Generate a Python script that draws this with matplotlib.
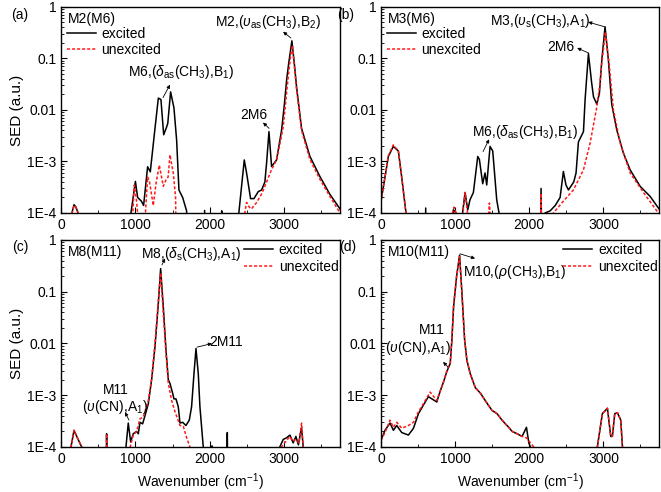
"""
SED curves for four modes, excited vs unexcited
"""

import numpy as np
import matplotlib
matplotlib.use('Agg')
from matplotlib import pyplot as plt
from matplotlib.ticker import FixedLocator, MultipleLocator, LogLocator, NullFormatter

plt.rcParams['font.family'] = ['Liberation Sans', 'DejaVu Sans']
plt.rcParams['mathtext.fontset'] = 'custom'
plt.rcParams['mathtext.rm'] = 'Liberation Sans'
plt.rcParams['mathtext.it'] = 'Liberation Sans:italic'
plt.rcParams['font.size'] = 10

LOW = 1e-6  # below the visible range

# (a) M2(M6)
a_x_exc = [0, 120, 150, 175, 200, 230, 250, 900, 940, 1000, 1030, 1080, 1110, 1164, 1200, 1260, 1308, 1343,
           1380, 1420, 1435, 1473, 1518, 1554, 1585, 1635, 1688, 1710, 1915, 1930, 1945, 2150, 2160, 2170,
           2360, 2390, 2463, 2494, 2548, 2593, 2651, 2696, 2740, 2763, 2795, 2830, 2897, 2965, 3000, 3032,
           3060, 3103, 3140, 3166, 3233, 3345, 3480, 3614, 3750]
a_y_exc = [LOW, LOW, 1.05e-4, 1.45e-4, 1.3e-4, 1.0e-4, LOW, LOW, 1e-4, 4.1e-4, 2.0e-4, 1.7e-4, 1.4e-4, 7.9e-4,
           6.3e-4, 4e-3, 0.017, 0.016, 3.3e-3, 4.7e-3, 5.5e-3, 0.0225, 0.011, 2.6e-3, 2.8e-4, 2.0e-4, 1.1e-4,
           LOW, LOW, 1.12e-4, LOW, LOW, 1.1e-4, LOW, LOW, 1e-4, 1.07e-3, 6e-4, 1.9e-4, 1.9e-4, 2.6e-4, 2.8e-4,
           4e-4, 9.3e-4, 3.8e-3, 8e-4, 1.07e-3, 4.1e-3, 0.012, 0.038, 0.08, 0.22, 0.07, 0.028, 4.4e-3, 1.26e-3,
           5.1e-4, 2.3e-4, 1.2e-4]
a_x_unx = [0, 120, 150, 175, 200, 230, 250, 950, 965, 985, 1010, 1030, 1040, 1120, 1135, 1164, 1190, 1240,
           1280, 1321, 1375, 1411, 1440, 1464, 1509, 1540, 1560, 2440, 2470, 2494, 2530, 2560, 2629, 2700,
           2763, 2830, 2897, 2950, 2987, 3030, 3054, 3085, 3112, 3140, 3166, 3233, 3345, 3480, 3614, 3750]
a_y_unx = [LOW, LOW, 1.0e-4, 1.4e-4, 1.3e-4, 1.0e-4, LOW, LOW, 1e-4, 3.5e-4, 2e-4, 1e-4, LOW, LOW, 1e-4,
           5e-4, 4e-4, 1.4e-4, 4e-4, 8.5e-4, 3.3e-4, 4.4e-4, 5e-4, 1.35e-3, 6e-4, 2e-4, LOW, LOW, 1e-4, 1.6e-4,
           1.3e-4, 1.2e-4, 1.6e-4, 2.4e-4, 4e-4, 7e-4, 1.07e-3, 2.5e-3, 4.7e-3, 0.02, 0.044, 0.11, 0.18, 0.06,
           0.025, 4e-3, 1.1e-3, 4.5e-4, 2.1e-4, 1.0e-4]

# (b) M3(M6)
b_x_exc = [0, 54, 99, 166, 234, 279, 337, 350, 590, 603, 615, 960, 976, 990, 1012, 1030, 1100, 1134, 1170,
           1200, 1246, 1305, 1327, 1372, 1403, 1426, 1471, 1507, 1561, 1592, 1600, 2140, 2159, 2180, 2200,
           2213, 2281, 2350, 2416, 2460, 2495, 2528, 2600, 2631, 2663, 2731, 2753, 2798, 2840, 2866, 2911,
           2946, 2978, 3022, 3067, 3112, 3180, 3270, 3360, 3495, 3630, 3750]
b_y_exc = [1.7e-4, 5e-4, 1.25e-3, 1.96e-3, 1.6e-3, 5e-4, 1e-4, LOW, LOW, 1.25e-4, LOW, LOW, 1.15e-4, 1.1e-4,
           1e-4, LOW, 1e-4, 2.5e-4, 1.15e-4, 1.8e-4, 2.5e-4, 1.25e-3, 1.1e-3, 3.7e-4, 6e-4, 3.5e-4, 1.96e-3,
           1.6e-3, 1.8e-4, 1e-4, LOW, LOW, 3e-4, LOW, LOW, 1e-4, 1.1e-4, 1.4e-4, 2e-4, 6.4e-4, 3.5e-4, 2.8e-4,
           4e-4, 6e-4, 2.4e-3, 3.8e-3, 0.016, 0.125, 0.035, 0.018, 0.013, 0.021, 0.093, 0.41, 0.093, 0.013,
           4.1e-3, 1.45e-3, 6.9e-4, 3.3e-4, 2.1e-4, 1.2e-4]
b_x_unx = [0, 54, 99, 166, 234, 279, 337, 350, 950, 965, 985, 1005, 1020, 1090, 1105, 1134, 1165, 1180,
           1440, 1452, 1462, 1472, 1484, 2145, 2159, 2175, 2310, 2325, 2460, 2595, 2731, 2821, 2911, 2950,
           2978, 3027, 3081, 3135, 3225, 3360, 3540, 3720, 3750]
b_y_unx = [1.7e-4, 5e-4, 1.3e-3, 2.1e-3, 1.6e-3, 5e-4, 1e-4, LOW, LOW, 1e-4, 1.3e-4, 1.1e-4, LOW, LOW,
           1e-4, 2.5e-4, 1.1e-4, LOW, LOW, 1e-4, 1.56e-4, 1e-4, LOW, LOW, 2.4e-4, LOW, LOW, 1e-4, 1.7e-4,
           2.8e-4, 6.9e-4, 2.3e-3, 0.0115, 0.03, 0.08, 0.33, 0.07, 0.01, 2.3e-3, 6e-4, 2.5e-4, 1.1e-4, 9.5e-5]

# (c) M8(M11)
c_x_exc = [100, 134, 175, 220, 278, 290, 600, 613, 625, 860, 873, 904, 936, 971, 1016, 1039, 1061, 1097,
           1128, 1173, 1218, 1263, 1308, 1339, 1375, 1411, 1442, 1464, 1500, 1518, 1545, 1576, 1599, 1635,
           1679, 1724, 1755, 1787, 1814, 1845, 1867, 1912, 1925, 2020, 2030, 2040, 2220, 2235, 2250, 2920,
           2940, 2987, 3030, 3077, 3120, 3157, 3190, 3233, 3255, 3265]
c_y_exc = [LOW, 1e-4, 2.1e-4, 1.5e-4, 1e-4, LOW, LOW, 1.8e-4, LOW, LOW, 1e-4, 2.9e-4, 1.25e-4, 1.8e-4, 2e-4,
           1.8e-4, 3e-4, 2.8e-4, 4e-4, 6.8e-4, 2e-3, 8.6e-3, 0.059, 0.28, 0.051, 7.5e-3, 2e-3, 1.7e-3, 1.1e-3,
           8.5e-4, 8.5e-4, 6e-4, 2.9e-4, 3e-4, 2.6e-4, 3.3e-4, 6e-4, 2.6e-3, 8e-3, 2.6e-3, 6e-4, 1e-4, LOW,
           LOW, 1.05e-4, LOW, LOW, 1.9e-4, LOW, LOW, 1e-4, 1.4e-4, 1.5e-4, 1.7e-4, 1.2e-4, 1.6e-4, 1.1e-4,
           2.4e-4, 1e-4, LOW]
c_x_unx = [100, 134, 175, 220, 278, 290, 600, 613, 625, 900, 930, 971, 1016, 1061, 1106, 1173, 1218, 1263,
           1308, 1339, 1375, 1411, 1442, 1487, 1532, 1599, 1644, 1689, 1733, 1745, 2940, 2960, 3077, 3110,
           3157, 3200, 3233, 3255, 3265]
c_y_unx = [LOW, 1e-4, 2.1e-4, 1.5e-4, 1e-4, LOW, LOW, 1.8e-4, LOW, LOW, 1e-4, 1.7e-4, 2e-4, 3.5e-4, 3.8e-4,
           7.9e-4, 2.1e-3, 1e-2, 0.069, 0.23, 0.038, 6.4e-3, 1.7e-3, 7.9e-4, 4.8e-4, 2.6e-4, 2.5e-4, 1.5e-4,
           1e-4, LOW, LOW, 1e-4, 1.6e-4, 1.3e-4, 1.4e-4, 1.2e-4, 2.9e-4, 1e-4, LOW]

# (d) M10(M11)
d_x_exc = [0, 54, 122, 167, 212, 280, 370, 438, 505, 573, 640, 686, 753, 798, 843, 889, 934, 956, 979, 1020,
           1060, 1092, 1128, 1159, 1204, 1272, 1340, 1430, 1497, 1565, 1633, 1678, 1723, 1768, 1836, 1903,
           1962, 1994, 2016, 2030, 2900, 2918, 2986, 3054, 3099, 3121, 3153, 3189, 3234, 3257, 3265]
d_y_exc = [1.35e-4, 2.1e-4, 2.9e-4, 2.1e-4, 2.6e-4, 1.9e-4, 1.7e-4, 2.3e-4, 4.4e-4, 6.5e-4, 9.4e-4, 8.5e-4,
           7.4e-4, 1.2e-3, 1.8e-3, 2.9e-3, 4.1e-3, 0.0117, 0.051, 0.2, 0.51, 0.093, 0.0117, 4.7e-3, 2.6e-3,
           1.4e-3, 1.1e-3, 7e-4, 5.1e-4, 4.4e-4, 3.3e-4, 2.8e-4, 2.4e-4, 2e-4, 1.8e-4, 1.6e-4, 2.4e-4, 1.2e-4,
           1e-4, LOW, LOW, 1e-4, 4.4e-4, 5.6e-4, 1.6e-4, 1.6e-4, 4.4e-4, 4.6e-4, 3.3e-4, 1e-4, LOW]
d_x_unx = [0, 54, 122, 167, 212, 280, 370, 438, 505, 573, 663, 753, 798, 843, 889, 934, 956, 979, 1020, 1060,
           1092, 1128, 1159, 1204, 1272, 1340, 1430, 1497, 1565, 1633, 1678, 1723, 1768, 1836, 1903, 1962,
           2016, 2061, 2075, 2900, 2918, 2986, 3054, 3099, 3121, 3153, 3189, 3234, 3257, 3265]
d_y_unx = [1.35e-4, 1.9e-4, 3.3e-4, 2.4e-4, 3e-4, 2.3e-4, 2.6e-4, 3e-4, 4.8e-4, 6.9e-4, 1.15e-3, 7.9e-4,
           1.2e-3, 1.8e-3, 3e-3, 4.3e-3, 0.012, 0.055, 0.2, 0.48, 0.09, 0.0117, 4.7e-3, 2.6e-3, 1.4e-3, 1.1e-3,
           7e-4, 5.1e-4, 4.4e-4, 3.3e-4, 2.8e-4, 2.4e-4, 2e-4, 1.8e-4, 1.6e-4, 1.5e-4, 1.2e-4, 1e-4, LOW, LOW,
           1e-4, 4.4e-4, 5.6e-4, 1.6e-4, 1.6e-4, 4.4e-4, 4.6e-4, 3.3e-4, 1e-4, LOW]

ytick_vals = [1e-4, 1e-3, 0.01, 0.1, 1]
ytick_labels = ['1E-4', '1E-3', '0.01', '0.1', '1']
xtick_vals = [0, 1000, 2000, 3000]

fig = plt.figure(figsize=(6.61, 4.92), dpi=100)

ax_a = fig.add_axes([0.0923, 0.5671, 0.4221, 0.4187])
ax_b = fig.add_axes([0.5764, 0.5671, 0.4206, 0.4187])
ax_c = fig.add_axes([0.0923, 0.0915, 0.4221, 0.4207])
ax_d = fig.add_axes([0.5764, 0.0915, 0.4206, 0.4207])


def panel(ax, xe, ye, xu, yu):
    ax.plot(xe, ye, color='black', lw=1.1, label='excited')
    ax.plot(xu, yu, color='#ff1a1a', lw=1.1, dashes=(2, 1.3), label='unexcited')
    ax.set_yscale('log')
    ax.set_xlim(0, 3750)
    ax.set_ylim(1e-4, 1)
    ax.yaxis.set_major_locator(FixedLocator(ytick_vals))
    ax.set_yticklabels(ytick_labels)
    ax.yaxis.set_minor_locator(LogLocator(base=10, subs=np.arange(2, 10)))
    ax.yaxis.set_minor_formatter(NullFormatter())
    ax.xaxis.set_major_locator(FixedLocator(xtick_vals))
    ax.xaxis.set_minor_locator(MultipleLocator(500))
    ax.tick_params(which='both', direction='in', labelsize=10)
    ax.tick_params(which='major', length=4, width=0.8)
    ax.tick_params(which='minor', length=2.5, width=0.6)
    for s in ax.spines.values():
        s.set_linewidth(1.0)


panel(ax_a, a_x_exc, a_y_exc, a_x_unx, a_y_unx)
panel(ax_b, b_x_exc, b_y_exc, b_x_unx, b_y_unx)
panel(ax_c, c_x_exc, c_y_exc, c_x_unx, c_y_unx)
panel(ax_d, d_x_exc, d_y_exc, d_x_unx, d_y_unx)

ax_a.set_ylabel('SED (a.u.)', fontsize=11, labelpad=2)
ax_c.set_ylabel('SED (a.u.)', fontsize=11, labelpad=2)
ax_c.set_xlabel('Wavenumber (cm$^{-1}$)', fontsize=10, labelpad=4)
ax_d.set_xlabel('Wavenumber (cm$^{-1}$)', fontsize=10, labelpad=4)

# legends
leg_kw = dict(frameon=False, fontsize=10, handlelength=2.1, handletextpad=0.4, labelspacing=0.2,
              borderaxespad=0, borderpad=0)
ax_a.legend(loc='upper left', bbox_to_anchor=(0.02, 0.905), **leg_kw)
ax_b.legend(loc='upper left', bbox_to_anchor=(0.02, 0.905), **leg_kw)
ax_c.legend(loc='upper right', bbox_to_anchor=(0.995, 0.985), **leg_kw)
ax_d.legend(loc='upper right', bbox_to_anchor=(0.995, 0.985), **leg_kw)

# names in each panel
ax_a.text(0.025, 0.94, 'M2(M6)', transform=ax_a.transAxes, va='center')
ax_b.text(0.025, 0.94, 'M3(M6)', transform=ax_b.transAxes, va='center')
ax_c.text(0.025, 0.94, 'M8(M11)', transform=ax_c.transAxes, va='center')
ax_d.text(0.025, 0.94, 'M10(M11)', transform=ax_d.transAxes, va='center')

fig.text(0.0303, 0.9695, '(a)', ha='center', va='center')
fig.text(0.5234, 0.9695, '(b)', ha='center', va='center')
fig.text(0.0303, 0.498, '(c)', ha='center', va='center')
fig.text(0.5265, 0.498, '(d)', ha='center', va='center')

arr = dict(arrowstyle='-|>', lw=0.6, color='black', mutation_scale=5, shrinkA=0, shrinkB=0)


def note(ax, txt, tx, ty, head, tail):
    ax.text(tx, ty, txt, ha='center', va='center')
    ax.annotate('', xy=head, xytext=tail, arrowprops=arr)


note(ax_a, r'M2,($\upsilon_{\rm as}$(CH$_3$),B$_2$)', 2780, 0.5, (2985, 0.33), (3090, 0.25))
note(ax_a, r'M6,($\delta_{\rm as}$(CH$_3$),B$_1$)', 1620, 0.055, (1465, 0.031), (1371, 0.0174))
note(ax_a, '2M6', 2594, 8.1e-3, (2715, 5.7e-3), (2796, 4.4e-3))

note(ax_b, r'M3,($\upsilon_{\rm s}$(CH$_3$),A$_1$)', 2146, 0.54, (2794, 0.51), (3024, 0.41))
note(ax_b, '2M6', 2430, 0.168, (2646, 0.16), (2794, 0.129))
note(ax_b, r'M6,($\delta_{\rm as}$(CH$_3$),B$_1$)', 1944, 3.8e-3, (1458, 2.7e-3), (1377, 1.56e-3))

note(ax_c, r'M8,($\delta_{\rm s}$(CH$_3$),A$_1$)', 1754, 0.54, (1398, 0.44), (1357, 0.33))
note(ax_c, '2M11', 2218, 0.0106, (2029, 0.01), (1828, 8.5e-3))
ax_c.text(730, 1.25e-3, 'M11', ha='center', va='center')
note(ax_c, r'($\upsilon$(CN),A$_1$)', 730, 6.0e-4, (860, 4.7e-4), (914, 3.3e-4))

note(ax_d, r'M10,($\rho$(CH$_3$),B$_1$)', 1809, 0.24, (1269, 0.44), (1066, 0.54))
ax_d.text(690, 0.018, 'M11', ha='center', va='center')
note(ax_d, r'($\upsilon$(CN),A$_1$)', 500, 8.2e-3, (837, 4.4e-3), (905, 3.5e-3))

plt.savefig('out.png', dpi=100)
